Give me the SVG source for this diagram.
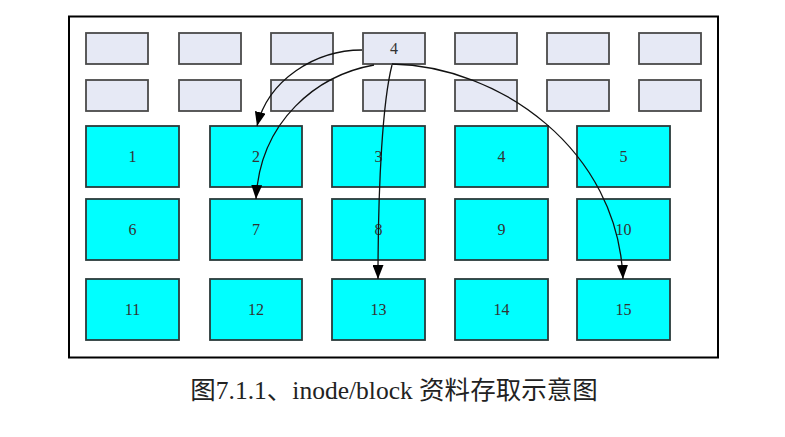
<svg xmlns="http://www.w3.org/2000/svg" width="785" height="437" viewBox="0 0 785 437">
<defs>
<style>
.s{fill:#e6e9f5;stroke:#4a4a4a;stroke-width:1.8}
.b{fill:#00ffff;stroke:#2a3a3a;stroke-width:1.8}
.t{font-family:"Liberation Serif",serif;font-size:16px;fill:#333;text-anchor:middle;dominant-baseline:central}
.e{fill:none;stroke:#111;stroke-width:1.3}
.cap{font-family:"Liberation Serif","Noto Sans CJK SC",serif;font-size:25.5px;fill:#222;text-anchor:middle}
</style>
<marker id="ah" markerWidth="14" markerHeight="11" refX="14" refY="5.5" orient="auto" markerUnits="userSpaceOnUse" viewBox="0 0 14 11">
<path d="M0,0 L14,5.5 L0,11 Z" fill="#000"/>
</marker>
</defs>
<rect x="0" y="0" width="785" height="437" fill="#fff"/>
<rect x="69" y="16.5" width="649" height="341" fill="#fff" stroke="#000" stroke-width="2"/>
<g id="inodes">
<rect class="s" x="86" y="33" width="62" height="31"/>
<rect class="s" x="179" y="33" width="62" height="31"/>
<rect class="s" x="271" y="33" width="62" height="31"/>
<g id="inode4"><rect class="s" x="363" y="33" width="62" height="31"/><text class="t" x="394" y="48.5">4</text></g>
<rect class="s" x="455" y="33" width="62" height="31"/>
<rect class="s" x="547" y="33" width="62" height="31"/>
<rect class="s" x="639" y="33" width="62" height="31"/>
<rect class="s" x="86" y="80" width="62" height="31"/>
<rect class="s" x="179" y="80" width="62" height="31"/>
<rect class="s" x="271" y="80" width="62" height="31"/>
<rect class="s" x="363" y="80" width="62" height="31"/>
<rect class="s" x="455" y="80" width="62" height="31"/>
<rect class="s" x="547" y="80" width="62" height="31"/>
<rect class="s" x="639" y="80" width="62" height="31"/>
</g>
<g id="b1"><rect class="b" x="86" y="126" width="93" height="61"/><text class="t" x="132.5" y="156">1</text></g>
<g id="b2"><rect class="b" x="210" y="126" width="92" height="61"/><text class="t" x="256" y="156">2</text></g>
<g id="b3"><rect class="b" x="332" y="126" width="93" height="61"/><text class="t" x="378.5" y="156">3</text></g>
<g id="b4"><rect class="b" x="455" y="126" width="93" height="61"/><text class="t" x="501.5" y="156">4</text></g>
<g id="b5"><rect class="b" x="577" y="126" width="93" height="61"/><text class="t" x="623.5" y="156">5</text></g>
<g id="b6"><rect class="b" x="86" y="199" width="93" height="61"/><text class="t" x="132.5" y="229">6</text></g>
<g id="b7"><rect class="b" x="210" y="199" width="92" height="61"/><text class="t" x="256" y="229">7</text></g>
<g id="b8"><rect class="b" x="332" y="199" width="93" height="61"/><text class="t" x="378.5" y="229">8</text></g>
<g id="b9"><rect class="b" x="455" y="199" width="93" height="61"/><text class="t" x="501.5" y="229">9</text></g>
<g id="b10"><rect class="b" x="577" y="199" width="93" height="61"/><text class="t" x="623.5" y="229">10</text></g>
<g id="b11"><rect class="b" x="86" y="279" width="93" height="61"/><text class="t" x="132.5" y="309">11</text></g>
<g id="b12"><rect class="b" x="210" y="279" width="92" height="61"/><text class="t" x="256" y="309">12</text></g>
<g id="b13"><rect class="b" x="332" y="279" width="93" height="61"/><text class="t" x="378.5" y="309">13</text></g>
<g id="b14"><rect class="b" x="455" y="279" width="93" height="61"/><text class="t" x="501.5" y="309">14</text></g>
<g id="b15"><rect class="b" x="577" y="279" width="93" height="61"/><text class="t" x="623.5" y="309">15</text></g>
<g id="connectors">
<path class="e" d="M362,50 C315,50 268,80 257,126" marker-end="url(#ah)"/>
<path class="e" d="M374,65 C318,75 260,120 256,199" marker-end="url(#ah)"/>
<path class="e" d="M392,65 C383,100 378,180 378,279" marker-end="url(#ah)"/>
<path class="e" d="M392,64 C500,66 618,150 623,279" marker-end="url(#ah)"/>
</g>
<text class="cap" x="394" y="399">图7.1.1、inode/block 资料存取示意图</text>
</svg>
